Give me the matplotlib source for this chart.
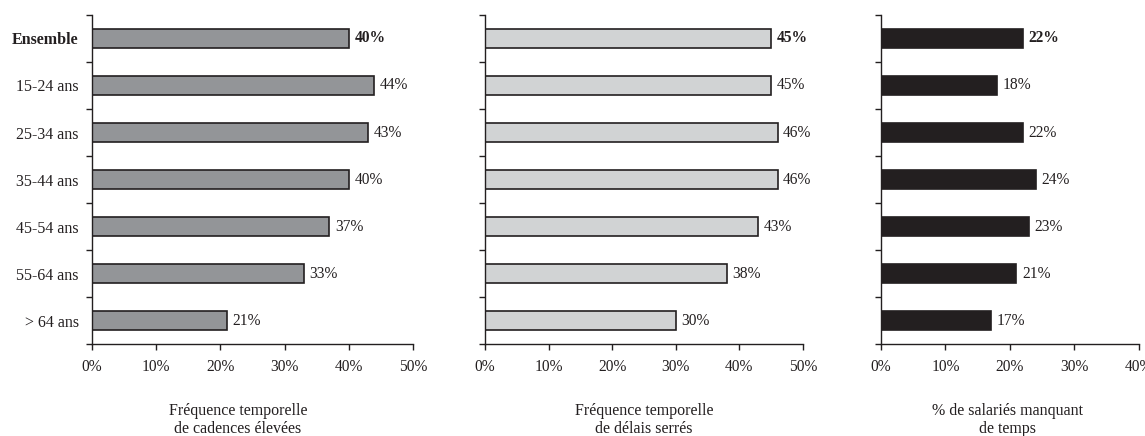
import numpy as np
import matplotlib.pyplot as plt
from matplotlib.ticker import FixedLocator, NullFormatter

plt.rcParams['font.family'] = ['Liberation Serif', 'DejaVu Serif']

groupes = ['Ensemble', '15-24 ans', '25-34 ans', '35-44 ans', '45-54 ans', '55-64 ans', '> 64 ans']
cadences = [40, 44, 43, 40, 37, 33, 21]
delais = [45, 45, 46, 46, 43, 38, 30]
manque_temps = [22, 18, 22, 24, 23, 21, 17]

titres = ['Fréquence temporelle\nde cadences élevées',
          'Fréquence temporelle\nde délais serrés',
          '% de salariés manquant\nde temps']
couleurs = ['#939598', '#d1d3d4', '#231f20']
xmax = [50, 50, 40]
series = [cadences, delais, manque_temps]

# left, width of each panel (figure fraction) and x position of its title
positions = [(0.0803, 0.2803), (0.4236, 0.2777), (0.7694, 0.2253)]
titre_x = [0.455, 0.5, 0.49]

fig = plt.figure(figsize=(11.45, 4.36), dpi=100)
y = np.arange(len(groupes))

for i, (vals, titre, coul, xm, (left, width)) in enumerate(
        zip(series, titres, couleurs, xmax, positions)):
    ax = fig.add_axes([left, 0.211, width, 0.7546])
    ax.barh(y, vals, height=0.42, color=coul, edgecolor='#231f20', linewidth=1.2)
    ax.set_ylim(len(groupes) - 0.5, -0.5)
    ax.set_xlim(0, xm)

    for spine in ['top', 'right']:
        ax.spines[spine].set_visible(False)
    for spine in ['left', 'bottom']:
        ax.spines[spine].set_color('#231f20')
        ax.spines[spine].set_linewidth(1.0)

    ax.set_xticks(np.arange(0, xm + 1, 10))
    ax.set_xticklabels(['%d%%' % v for v in np.arange(0, xm + 1, 10)])
    ax.tick_params(axis='x', direction='out', length=4, width=1.0,
                   colors='#231f20', labelsize=11.2, pad=6.5)

    # ticks between categories, labels at category centres
    ax.yaxis.set_minor_locator(FixedLocator(np.arange(-0.5, len(groupes), 1)))
    ax.yaxis.set_minor_formatter(NullFormatter())
    ax.tick_params(axis='y', which='minor', direction='out', length=4, width=1.0,
                   colors='#231f20')
    ax.set_yticks(y)
    if i == 0:
        ax.set_yticklabels(groupes)
        ax.tick_params(axis='y', which='major', length=0, labelsize=11.5, pad=9.5,
                       labelcolor='#231f20')
        ax.get_yticklabels()[0].set_fontweight('bold')
    else:
        ax.set_yticklabels([])
        ax.tick_params(axis='y', which='major', length=0)

    for j, v in enumerate(vals):
        ax.annotate('%d%%' % v, (v, j), xytext=(4, 0), textcoords='offset points',
                    va='center', ha='left', fontsize=11.2, color='#231f20',
                    fontweight='bold' if j == 0 else 'normal')

    ax.set_xlabel(titre, fontsize=11.5, color='#231f20', labelpad=20.5,
                  linespacing=1.15)
    ax.xaxis.label.set_x(titre_x[i])

fig.savefig('out.png', dpi=100)
